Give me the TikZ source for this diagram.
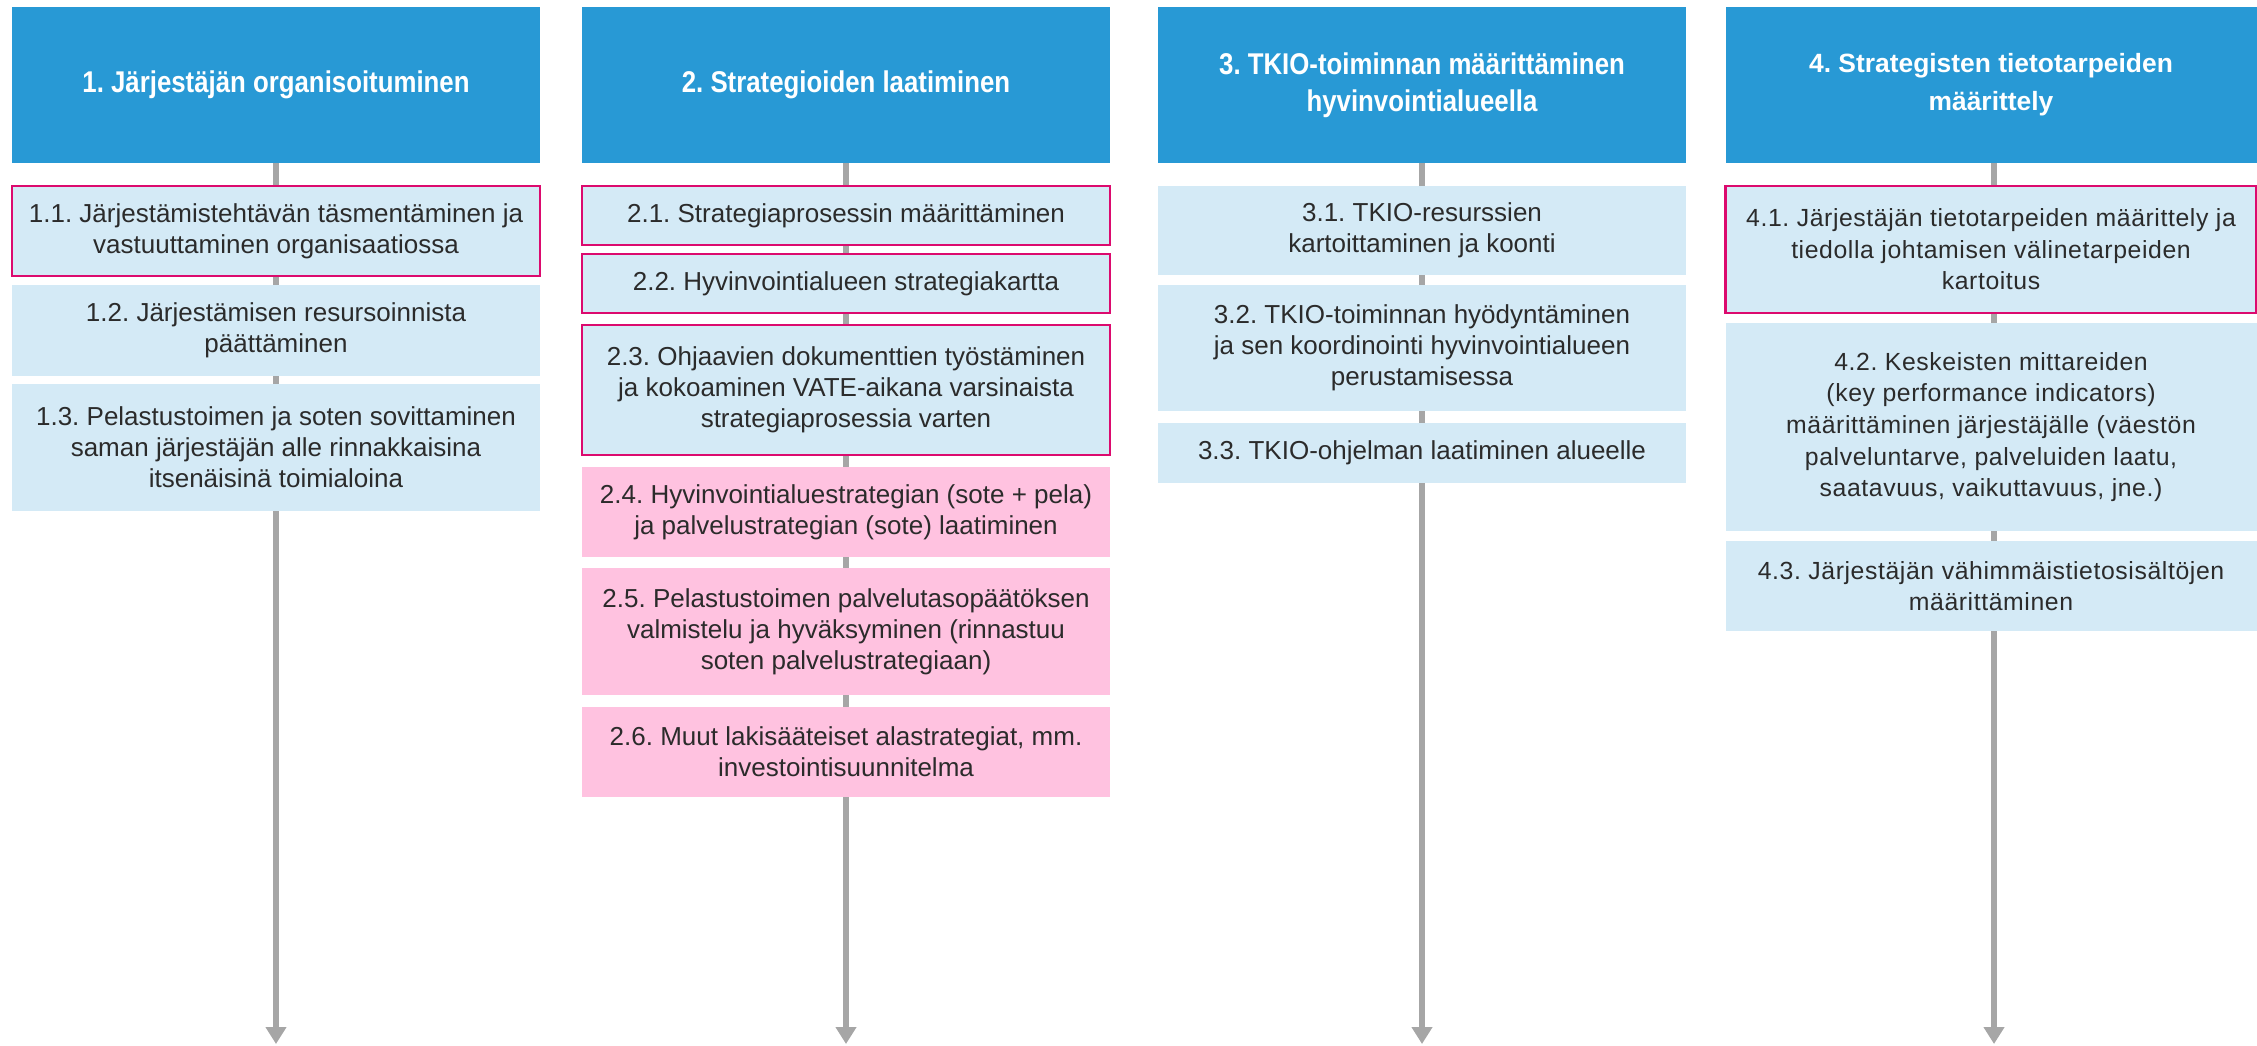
\documentclass[tikz,border=0pt]{standalone}
\usepackage{fontspec}
\setmainfont{Liberation Sans}
\newfontfamily\condfont{Liberation Sans}[FakeStretch=0.86]
\newfontfamily\widefont{Liberation Sans}[LetterSpace=2.4]
\usetikzlibrary{arrows.meta}
\definecolor{hdrblue}{HTML}{2899D5}
\definecolor{lblue}{HTML}{D4EAF6}
\definecolor{lpink}{HTML}{FFC2E0}
\definecolor{mag}{HTML}{DC0A6E}
\definecolor{conn}{HTML}{A6A6A6}
\definecolor{txt}{HTML}{2B2B2B}
\frenchspacing
\begin{document}
\begin{tikzpicture}[x=0.5pt,y=-0.5pt,
 hdr/.style={fill=hdrblue, text=white, minimum width=264pt, minimum height=78pt, inner sep=0pt, outer sep=0pt, align=center, font=\condfont\fontsize{15pt}{18.5pt}\selectfont\bfseries},
 hdrw/.style={hdr, minimum width=265.5pt, font=\fontsize{13.2pt}{19pt}\selectfont\bfseries},
 box/.style={fill=lblue, text=txt, minimum width=264pt, inner sep=0pt, outer sep=0pt, align=center, font=\fontsize{13pt}{15.5pt}\selectfont},
 wbox/.style={box, minimum width=265.5pt, font=\widefont\fontsize{12.4pt}{15.8pt}\selectfont},
 pbox/.style={box, fill=lpink},
 mbox/.style={box, draw=mag, line width=1.2pt},
 flow/.style={draw=conn, line width=3pt, -{Triangle[width=10pt,length=8.5pt]}}
]
\useasboundingbox (0,0) rectangle (2257,1045);
% headers
\node[hdr] (H1) at (276,85) {1. Järjestäjän organisoituminen};
\node[hdr] (H2) at (846,85) {2. Strategioiden laatiminen};
\node[hdr] (H3) at (1422,85) {3. TKIO-toiminnan määrittäminen\\hyvinvointialueella};
\node[hdrw] (H4) at (1991,85) {4. Strategisten tietotarpeiden\\määrittely};
% connector ends
\coordinate (E1) at (276,1044);
\coordinate (E2) at (846,1044);
\coordinate (E3) at (1422,1044);
\coordinate (E4) at (1994,1044);
\draw[flow] (H1.south) -- (E1);
\draw[flow] (H2.south) -- (E2);
\draw[flow] (H3.south) -- (E3);
\draw[flow] (H4.south -| E4) -- (E4);
% column 1
\node[mbox, minimum height=45pt] (b11) at (276,231) {1.1. Järjestämistehtävän täsmentäminen ja\\vastuuttaminen organisaatiossa};
\node[box, minimum height=45.5pt] (b12) at (276,330.5) {1.2. Järjestämisen resursoinnista\\päättäminen};
\node[box, minimum height=63.5pt] (b13) at (276,447.5) {1.3. Pelastustoimen ja soten sovittaminen\\saman järjestäjän alle rinnakkaisina\\itsenäisinä toimialoina};
% column 2
\node[mbox, minimum height=29.5pt] (b21) at (846,215.5) {2.1. Strategiaprosessin määrittäminen};
\node[mbox, minimum height=29.5pt] (b22) at (846,283.5) {2.2. Hyvinvointialueen strategiakartta};
\node[mbox, minimum height=65pt] (b23) at (846,390) {2.3. Ohjaavien dokumenttien työstäminen\\ja kokoaminen VATE-aikana varsinaista\\strategiaprosessia varten};
\node[pbox, minimum height=45pt] (b24) at (846,512) {2.4. Hyvinvointialuestrategian (sote + pela)\\ja palvelustrategian (sote) laatiminen};
\node[pbox, minimum height=63.5pt] (b25) at (846,631.5) {2.5. Pelastustoimen palvelutasopäätöksen\\valmistelu ja hyväksyminen (rinnastuu\\soten palvelustrategiaan)};
\node[pbox, minimum height=45pt] (b26) at (846,752) {2.6. Muut lakisääteiset alastrategiat, mm.\\investointisuunnitelma};
% column 3
\node[box, minimum height=44.5pt] (b31) at (1422,230.5) {3.1. TKIO-resurssien\\kartoittaminen ja koonti};
\node[box, minimum height=63pt] (b32) at (1422,348) {3.2. TKIO-toiminnan hyödyntäminen\\ja sen koordinointi hyvinvointialueen\\perustamisessa};
\node[box, minimum height=30pt] (b33) at (1422,453) {3.3. TKIO-ohjelman laatiminen alueelle};
% column 4
\node[wbox, draw=mag, line width=1.2pt, minimum height=63.5pt] (b41) at (1991,249.5) {4.1. Järjestäjän tietotarpeiden määrittely ja\\tiedolla johtamisen välinetarpeiden\\kartoitus};
\node[wbox, minimum height=104pt] (b42) at (1991,427) {4.2. Keskeisten mittareiden\\(key performance indicators)\\määrittäminen järjestäjälle (väestön\\palveluntarve, palveluiden laatu,\\saatavuus, vaikuttavuus, jne.)};
\node[wbox, minimum height=45pt] (b43) at (1991,586) {4.3. Järjestäjän vähimmäistietosisältöjen\\määrittäminen};
\end{tikzpicture}
\end{document}
